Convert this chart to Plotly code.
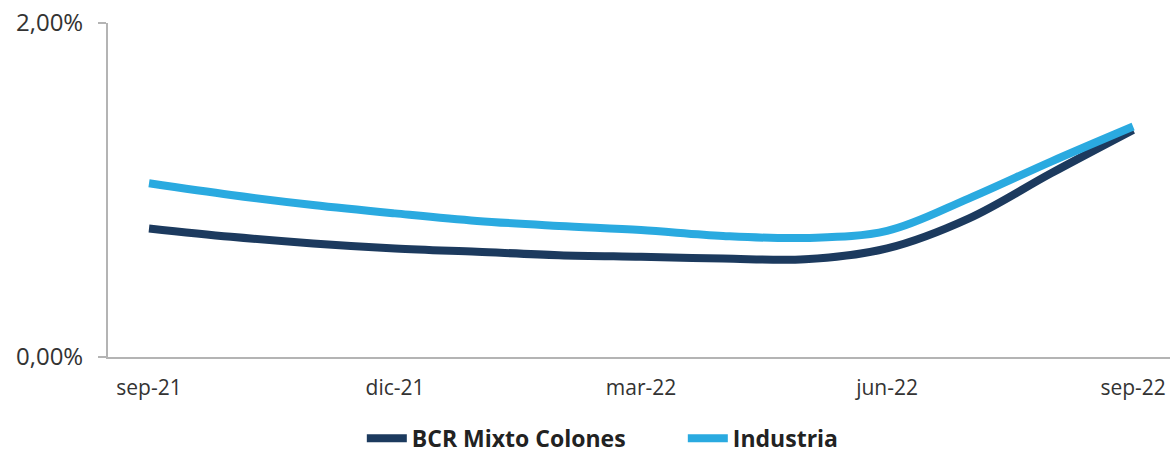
import plotly.graph_objects as go

# Monthly returns (%), sep-21 .. sep-22
months = ["sep-21", "oct-21", "nov-21", "dic-21", "ene-22", "feb-22", "mar-22",
          "abr-22", "may-22", "jun-22", "jul-22", "ago-22", "sep-22"]
bcr_mixto = [0.77, 0.72, 0.68, 0.65, 0.63, 0.61, 0.60, 0.59, 0.585, 0.65, 0.83, 1.10, 1.36]
industria = [1.04, 0.97, 0.91, 0.86, 0.815, 0.785, 0.76, 0.725, 0.713, 0.755, 0.95, 1.17, 1.38]

tick_labels = ["sep-21", "dic-21", "mar-22", "jun-22", "sep-22"]
y_tick_vals = [0, 2]
y_tick_text = ["0,00%", "2,00%"]

DARK = "#1c3a5e"
LIGHT = "#2aaae0"
AXIS = "#b4b4b4"
TEXT = "#333333"
FONT = "'Open Sans', Lato, sans-serif"

idx = list(range(len(months)))
label_pos = [months.index(m) for m in tick_labels]
boundary_pos = [p - 0.5 for p in label_pos]
x_range = [-0.5, 12.45]

fig = go.Figure()
fig.add_trace(go.Scatter(x=idx, y=bcr_mixto, name="BCR Mixto Colones", mode="lines",
                         line=dict(color=DARK, width=8, shape="spline", smoothing=1.0)))
fig.add_trace(go.Scatter(x=idx, y=industria, name="Industria", mode="lines",
                         line=dict(color=LIGHT, width=8, shape="spline", smoothing=1.0)))

fig.update_layout(
    width=1170, height=461,
    margin=dict(l=108, r=0, t=23, b=104, autoexpand=False),
    paper_bgcolor="white", plot_bgcolor="white",
    font=dict(family=FONT, color=TEXT, size=20),
    showlegend=True,
    legend=dict(orientation="h", x=0.239, xanchor="left", y=-0.308, yanchor="bottom",
                font=dict(family=FONT, size=23, color="#222222", weight="bold"),
                itemwidth=40, traceorder="normal", tracegroupgap=0,
                entrywidth=266, entrywidthmode="pixels"),
    xaxis=dict(range=x_range, tickmode="array", tickvals=label_pos, ticktext=tick_labels,
               ticks="", showgrid=False, zeroline=False, showline=True,
               linecolor=AXIS, linewidth=2, tickfont=dict(size=21), ticklabelstandoff=11),
    xaxis2=dict(overlaying="x", anchor="y", side="bottom", range=x_range,
                tickmode="array", tickvals=boundary_pos, showticklabels=False,
                ticks="outside", ticklen=8, tickwidth=1.5, tickcolor=AXIS,
                showgrid=False, zeroline=False, showline=False),
    yaxis=dict(range=[0, 2], tickmode="array", tickvals=y_tick_vals, ticktext=y_tick_text,
               ticks="outside", ticklen=8, tickwidth=1.5, tickcolor=AXIS,
               showgrid=True, gridcolor="#c8c8c8", griddash="dot", gridwidth=1,
               zeroline=False, showline=True, linecolor=AXIS, linewidth=2,
               tickfont=dict(size=24), ticklabelstandoff=10),
)

fig.write_html("out.html")
